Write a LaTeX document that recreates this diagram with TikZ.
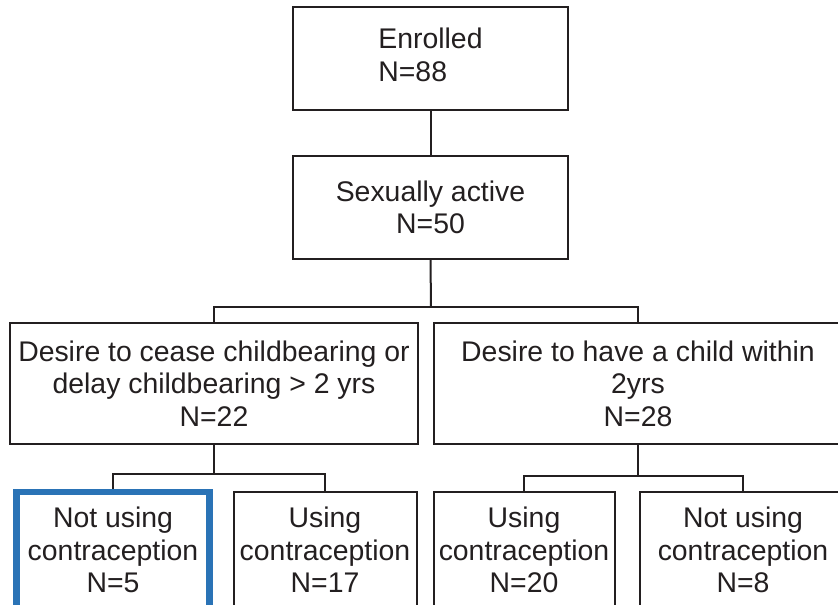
\documentclass[tikz,border=0pt]{standalone}
\usepackage{fontspec}
\setmainfont{Liberation Sans}
\usetikzlibrary{positioning}
\usepackage{xcolor}
\definecolor{ink}{HTML}{231F20}
\definecolor{flagblue}{HTML}{2A73B6}
\tikzset{
  box/.style={rectangle, draw=ink, line width=1.5pt, text=ink, align=center,
    inner sep=0pt, font=\fontsize{21.3}{24.4}\selectfont},
  boxTop/.style={box, minimum width=206.25pt, minimum height=77.25pt},
  boxMid/.style={box, minimum width=306pt, minimum height=90.75pt},
  boxLow/.style={box, minimum height=87pt},
  boxFlag/.style={boxLow, draw=flagblue, line width=5pt},
  link/.style={draw=ink, line width=1.5pt},
}

\begin{document}
\begin{tikzpicture}[x=0.75pt, y=-0.75pt]
\useasboundingbox (0,0) rectangle (838,604);
\clip (0,0) rectangle (838,604);
\node[boxTop] (enr) at (430.5,58.5) {\begin{tabular}{@{}l@{}}Enrolled\\N=88\end{tabular}};
\node[boxTop, below=33pt of enr] (sex) {Sexually active\\N=50};
\node[boxMid] (cease) at (214,383.5) {Desire to cease childbearing or\\delay childbearing > 2 yrs\\N=22};
\node[boxMid] (child) at (638,383.5) {Desire to have a child within\\2yrs\\N=28};
\node[boxFlag, minimum width=144.75pt] (nuse5) at (113,550) {Not using\\contraception\\N=5};
\node[boxLow, minimum width=137.25pt] (use17) at (325,550) {Using\\contraception\\N=17};
\node[boxLow, minimum width=135.75pt] (use20) at (524,550) {Using\\contraception\\N=20};
\node[boxLow, minimum width=154.5pt] (nuse8) at (743,550) {Not using\\contraception\\N=8};
% junctions
\coordinate (j1) at (431,307);
\coordinate (j2) at (214,474);
\coordinate (j3) at (638,476);
\draw[link] (enr) -- (sex);
\draw[link] (sex.south) -- (j1);
\draw[link] (cease.north) |- (j1) -| (child.north);
\draw[link] (cease.south) -- (j2);
\draw[link] (nuse5.north) |- (j2) -| (use17.north);
\draw[link] (child.south) -- (j3);
\draw[link] (use20.north) |- (j3) -| (nuse8.north);
\end{tikzpicture}
\end{document}
